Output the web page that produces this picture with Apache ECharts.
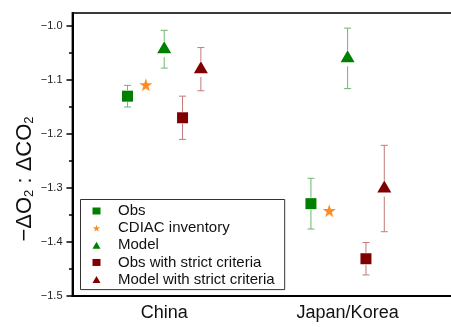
<!DOCTYPE html>
<html><head><meta charset="utf-8">
<script src="https://cdn.jsdelivr.net/npm/echarts@6/dist/echarts.min.js"></script>
<style>html,body{margin:0;padding:0;background:#fff}#c{width:451px;height:327px}</style>
</head><body><div id="c"></div>
<script>
const categories = ['China', 'Japan/Korea'];
const yTicks = [-1.5, -1.4, -1.3, -1.2, -1.1, -1.0];
const seriesNames = ['Obs', 'CDIAC inventory', 'Model', 'Obs with strict criteria', 'Model with strict criteria'];
const obs = [-1.130, -1.329];
const obsErr = [0.020, 0.047];
const cdiac = [-1.109, -1.342];
const model = [-1.043, -1.060];
const modelErr = [0.035, 0.056];
const obsStrict = [-1.170, -1.431];
const obsStrictErr = [0.040, 0.030];
const modelStrict = [-1.080, -1.301];
const modelStrictErr = [0.040, 0.080];

const FONT = '"Liberation Sans", Arial, Helvetica, sans-serif';
const GREEN = '#008000', RED = '#800000', ORANGE = '#ff8a1f';
const GREEN_ERR = '#6cb86c', RED_ERR = '#c27a7a';
const STAR = 'path://M50,0 L61.2,34.5 L97.6,34.5 L68.2,55.9 L79.4,90.5 L50,69.1 L20.6,90.5 L31.8,55.9 L2.4,34.5 L38.8,34.5 Z';
const offsets = [-0.2, -0.1, 0, 0.1, 0.2];

function xs(k) { return categories.map((c, i) => i + 1 + offsets[k]); }

function scatter(k, vals, symbol, size, color, symOffset) {
  const x = xs(k);
  return {
    type: 'scatter', name: seriesNames[k], xAxisIndex: 0, yAxisIndex: 0, z: 5,
    symbol: symbol, symbolSize: size, symbolOffset: symOffset || [0, 0],
    itemStyle: { color: color, opacity: 1 },
    data: vals.map((v, i) => [x[i], v]),
    silent: true
  };
}

function errBars(k, vals, errs, color, gap) {
  const x = xs(k);
  return {
    type: 'custom', name: seriesNames[k] + ' err', xAxisIndex: 0, yAxisIndex: 0, z: 2, silent: true,
    data: vals.map((v, i) => [x[i], v - errs[i], v + errs[i], v]),
    encode: { x: 0, y: [1, 2] },
    renderItem: function (params, api) {
      const xv = api.value(0);
      const lo = api.coord([xv, api.value(1)]);
      const hi = api.coord([xv, api.value(2)]);
      const mid = api.coord([xv, api.value(3)]);
      const cx = mid[0];
      const cap = 3.5;
      const style = { stroke: color, lineWidth: 1, fill: null };
      const ch = [];
      if (mid[1] - gap > hi[1]) ch.push({ type: 'line', shape: { x1: cx, y1: hi[1], x2: cx, y2: mid[1] - gap }, style: style });
      if (mid[1] + gap < lo[1]) ch.push({ type: 'line', shape: { x1: cx, y1: mid[1] + gap, x2: cx, y2: lo[1] }, style: style });
      ch.push({ type: 'line', shape: { x1: cx - cap, y1: hi[1], x2: cx + cap, y2: hi[1] }, style: style });
      ch.push({ type: 'line', shape: { x1: cx - cap, y1: lo[1], x2: cx + cap, y2: lo[1] }, style: style });
      return { type: 'group', children: ch };
    }
  };
}

const chart = echarts.init(document.getElementById('c'), null, { renderer: 'canvas' });
chart.setOption({
  animation: false,
  backgroundColor: '#fff',
  textStyle: { fontFamily: FONT },
  grid: [
    { left: 72.5, right: -25, top: 13, bottom: 31, show: true, borderColor: '#3a3a3a', borderWidth: 2, backgroundColor: 'transparent', containLabel: false, outerBoundsMode: 'none' },
    { left: 72.5, right: -25, top: 26, bottom: 31, containLabel: false, outerBoundsMode: 'none' }
  ],
  xAxis: [
    {
      gridIndex: 0, type: 'value', min: 0.5, max: 2.7, interval: 0.5,
      axisLine: { show: true, onZero: false, lineStyle: { color: '#000', width: 2 } },
      axisTick: { show: false }, splitLine: { show: false },
      axisLabel: {
        fontSize: 18, margin: 8, color: '#111', fontFamily: FONT, showMaxLabel: false, showMinLabel: false,
        formatter: function (v) {
          const r = Math.round(v);
          return (Math.abs(v - r) < 1e-6 && categories[r - 1]) ? categories[r - 1] : '';
        }
      }
    },
    { gridIndex: 1, type: 'value', min: 0.5, max: 2.7, show: false }
  ],
  yAxis: [
    {
      gridIndex: 0, type: 'value', min: -1.5, max: -0.976,
      axisLine: { show: true, onZero: false, lineStyle: { color: '#000', width: 2 } },
      axisTick: { show: false }, axisLabel: { show: false }, splitLine: { show: false }
    },
    {
      gridIndex: 1, type: 'value', min: -1.5, max: -1.0, interval: 0.1,
      axisLine: { show: false },
      axisTick: { show: true, length: 6, lineStyle: { color: '#000', width: 1.5 } },
      minorTick: { show: true, splitNumber: 2, length: 3.5, lineStyle: { color: '#000', width: 1.5 } },
      splitLine: { show: false },
      axisLabel: {
        fontSize: 11, margin: 10, color: '#222', fontFamily: FONT,
        formatter: function (v) {
          const hit = yTicks.some(t => Math.abs(t - v) < 1e-6);
          return hit ? v.toFixed(1).replace('-', '\u2212') : '';
        }
      },
      name: '\u2212\u0394O{s|2} : \u0394CO{s|2}',
      nameLocation: 'middle', nameGap: 37, nameMoveOverlap: false,
      nameTextStyle: {
        fontSize: 22, color: '#111', fontFamily: FONT, padding: [0, 36, 0, 0],
        rich: { s: { fontSize: 13, verticalAlign: 'bottom', fontFamily: FONT, color: '#111' } }
      }
    }
  ],
  legend: {
    orient: 'vertical', left: 80.5, top: 199.5,
    data: seriesNames, selectedMode: false,
    itemWidth: 8, itemHeight: 7, itemGap: 2.15,
    padding: [4, 10, 2.5, 12],
    borderColor: '#333', borderWidth: 1, backgroundColor: '#fff',
    textStyle: { fontSize: 15, color: '#111', fontFamily: FONT, lineHeight: 15, padding: [0, 0, 0, 12.5] }
  },
  series: [
    errBars(0, obs, obsErr, GREEN_ERR, 6),
    errBars(2, model, modelErr, GREEN_ERR, 8),
    errBars(3, obsStrict, obsStrictErr, RED_ERR, 6),
    errBars(4, modelStrict, modelStrictErr, RED_ERR, 8),
    scatter(0, obs, 'rect', 11, GREEN),
    scatter(1, cdiac, STAR, 13, ORANGE),
    scatter(2, model, 'triangle', [14, 12], GREEN, [0, -2]),
    scatter(3, obsStrict, 'rect', 11, RED),
    scatter(4, modelStrict, 'triangle', [14, 12], RED, [0, -2])
  ]
});
</script></body></html>
